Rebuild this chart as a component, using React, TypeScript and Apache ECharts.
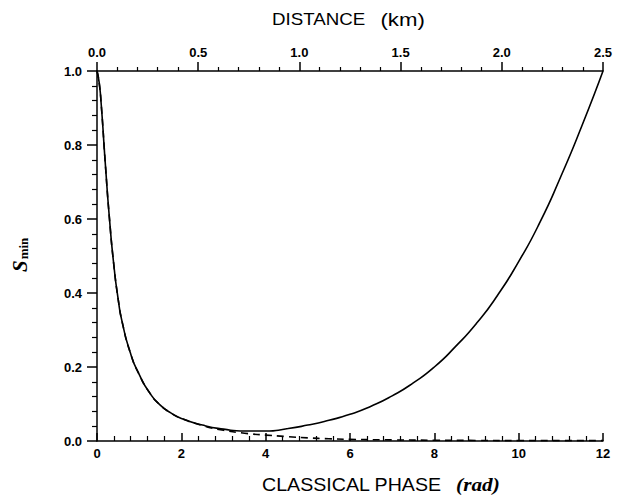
import React, { useEffect, useRef } from "react";
import * as echarts from "echarts";

const phaseSolid = [0, 0.05, 0.1, 0.2, 0.3, 0.4, 0.5, 0.6, 0.8, 1.0, 1.25, 1.5, 1.75, 2.0, 2.5, 3.0, 3.5, 4.0, 4.5, 5.0, 5.5, 6.0, 6.5, 7.0, 7.5, 8.0, 8.5, 9.0, 9.5, 10.0, 10.5, 11.0, 11.5, 12.0];
const sSolid = [1.0, 0.97, 0.91, 0.745, 0.595, 0.475, 0.385, 0.32, 0.235, 0.18, 0.13, 0.097, 0.076, 0.061, 0.043, 0.032, 0.027, 0.027, 0.033, 0.043, 0.056, 0.072, 0.094, 0.122, 0.157, 0.2, 0.255, 0.318, 0.394, 0.485, 0.59, 0.715, 0.852, 1.0];

const phaseDashed = [0, 0.05, 0.1, 0.2, 0.3, 0.4, 0.5, 0.6, 0.8, 1.0, 1.25, 1.5, 1.75, 2.0, 2.5, 3.0, 3.5, 4.0, 4.5, 5.0, 5.5, 6.0, 7.0, 8.0, 9.0, 10.0, 11.0, 12.0];
const sDashed = [1.0, 0.97, 0.91, 0.745, 0.595, 0.475, 0.385, 0.32, 0.235, 0.18, 0.13, 0.097, 0.076, 0.061, 0.042, 0.029, 0.021, 0.016, 0.012, 0.0085, 0.006, 0.0045, 0.003, 0.002, 0.0015, 0.001, 0.001, 0.001];

const bottomTitle = "CLASSICAL PHASE";
const bottomUnit = "(rad)";
const topTitle = "DISTANCE";
const topUnit = "(km)";

export default function App() {
  const ref = useRef<HTMLDivElement>(null);
  useEffect(() => {
    if (!ref.current) return;
    const chart = echarts.init(ref.current, null, { renderer: "svg" });
    const tickFont = { fontFamily: "Liberation Sans", fontWeight: "bold" as const, fontSize: 13, color: "#000" };
    chart.setOption({
      animation: false,
      backgroundColor: "#fff",
      grid: { left: 97, right: 23, top: 71, bottom: 56 },
      xAxis: [
        {
          type: "value",
          position: "bottom",
          min: 0,
          max: 12,
          interval: 2,
          axisLine: { lineStyle: { color: "#000", width: 1.5 } },
          axisTick: { inside: true, length: 8, lineStyle: { color: "#000", width: 1.5 } },
          minorTick: { show: true, splitNumber: 5, length: 5, lineStyle: { color: "#000", width: 1.2 } },
          splitLine: { show: false },
          axisLabel: { ...tickFont, margin: 6 },
        },
        {
          type: "value",
          position: "top",
          min: 0,
          max: 2.5,
          interval: 0.5,
          axisLine: { lineStyle: { color: "#000", width: 1.5 } },
          axisTick: { inside: false, length: 9, lineStyle: { color: "#000", width: 1.5 } },
          minorTick: { show: true, splitNumber: 5, length: 4, lineStyle: { color: "#000", width: 1.2 } },
          splitLine: { show: false },
          axisLabel: { ...tickFont, margin: 12, formatter: (v: number) => v.toFixed(1) },
        },
      ],
      yAxis: {
        type: "value",
        min: 0,
        max: 1,
        interval: 0.2,
        axisLine: { lineStyle: { color: "#000", width: 1.5 } },
        axisTick: { inside: false, length: 10, lineStyle: { color: "#000", width: 1.5 } },
        minorTick: { show: true, splitNumber: 5, length: 5, lineStyle: { color: "#000", width: 1.2 } },
        splitLine: { show: false },
        axisLabel: { ...tickFont, margin: 15, formatter: (v: number) => v.toFixed(1) },
      },
      graphic: [
        {
          type: "text",
          x: 272,
          y: 19,
          scaleX: 1.17,
          style: {
            text: "{a|" + topTitle + "}{b|" + topUnit + "}",
            verticalAlign: "middle",
            align: "left",
            rich: {
              a: { fontFamily: "Liberation Sans", fontSize: 16, fill: "#000" },
              b: { fontFamily: "Liberation Sans", fontSize: 19, fill: "#000", padding: [0, 0, 0, 13] },
            },
          },
        },
        {
          type: "text",
          x: 262,
          y: 484.5,
          scaleX: 1.09,
          style: {
            text: "{a|" + bottomTitle + "}{b|" + bottomUnit + "}",
            verticalAlign: "middle",
            align: "left",
            rich: {
              a: { fontFamily: "Liberation Sans", fontSize: 18, fill: "#000" },
              b: { fontFamily: "Liberation Serif", fontStyle: "italic", fontWeight: "bold", fontSize: 19.5, fill: "#000", padding: [0, 0, 0, 13] },
            },
          },
        },
        {
          type: "text",
          x: 9,
          y: 272,
          rotation: Math.PI / 2,
          style: {
            text: "{s|S}{m|min}",
            rich: {
              s: { fontFamily: "Liberation Serif", fontStyle: "italic", fontWeight: "bold", fontSize: 21, fill: "#000" },
              m: { fontFamily: "Liberation Serif", fontWeight: "bold", fontSize: 13, fill: "#000", padding: [8, 0, 0, 1] },
            },
          },
        },
      ],
      series: [
        {
          type: "line",
          data: phaseSolid.map((p, i) => [p, sSolid[i]]),
          showSymbol: false,
          smooth: 0.6,
          lineStyle: { color: "#000", width: 1.6 },
          z: 3,
        },
        {
          type: "line",
          data: phaseDashed.map((p, i) => [p, sDashed[i]]),
          showSymbol: false,
          smooth: 0.6,
          lineStyle: { color: "#000", width: 1.6, type: [7, 5] },
          z: 2,
        },
      ],
    });
    return () => chart.dispose();
  }, []);
  return <div ref={ref} style={{ width: 626, height: 497, position: "absolute", left: 0, top: 0 }} />;
}
